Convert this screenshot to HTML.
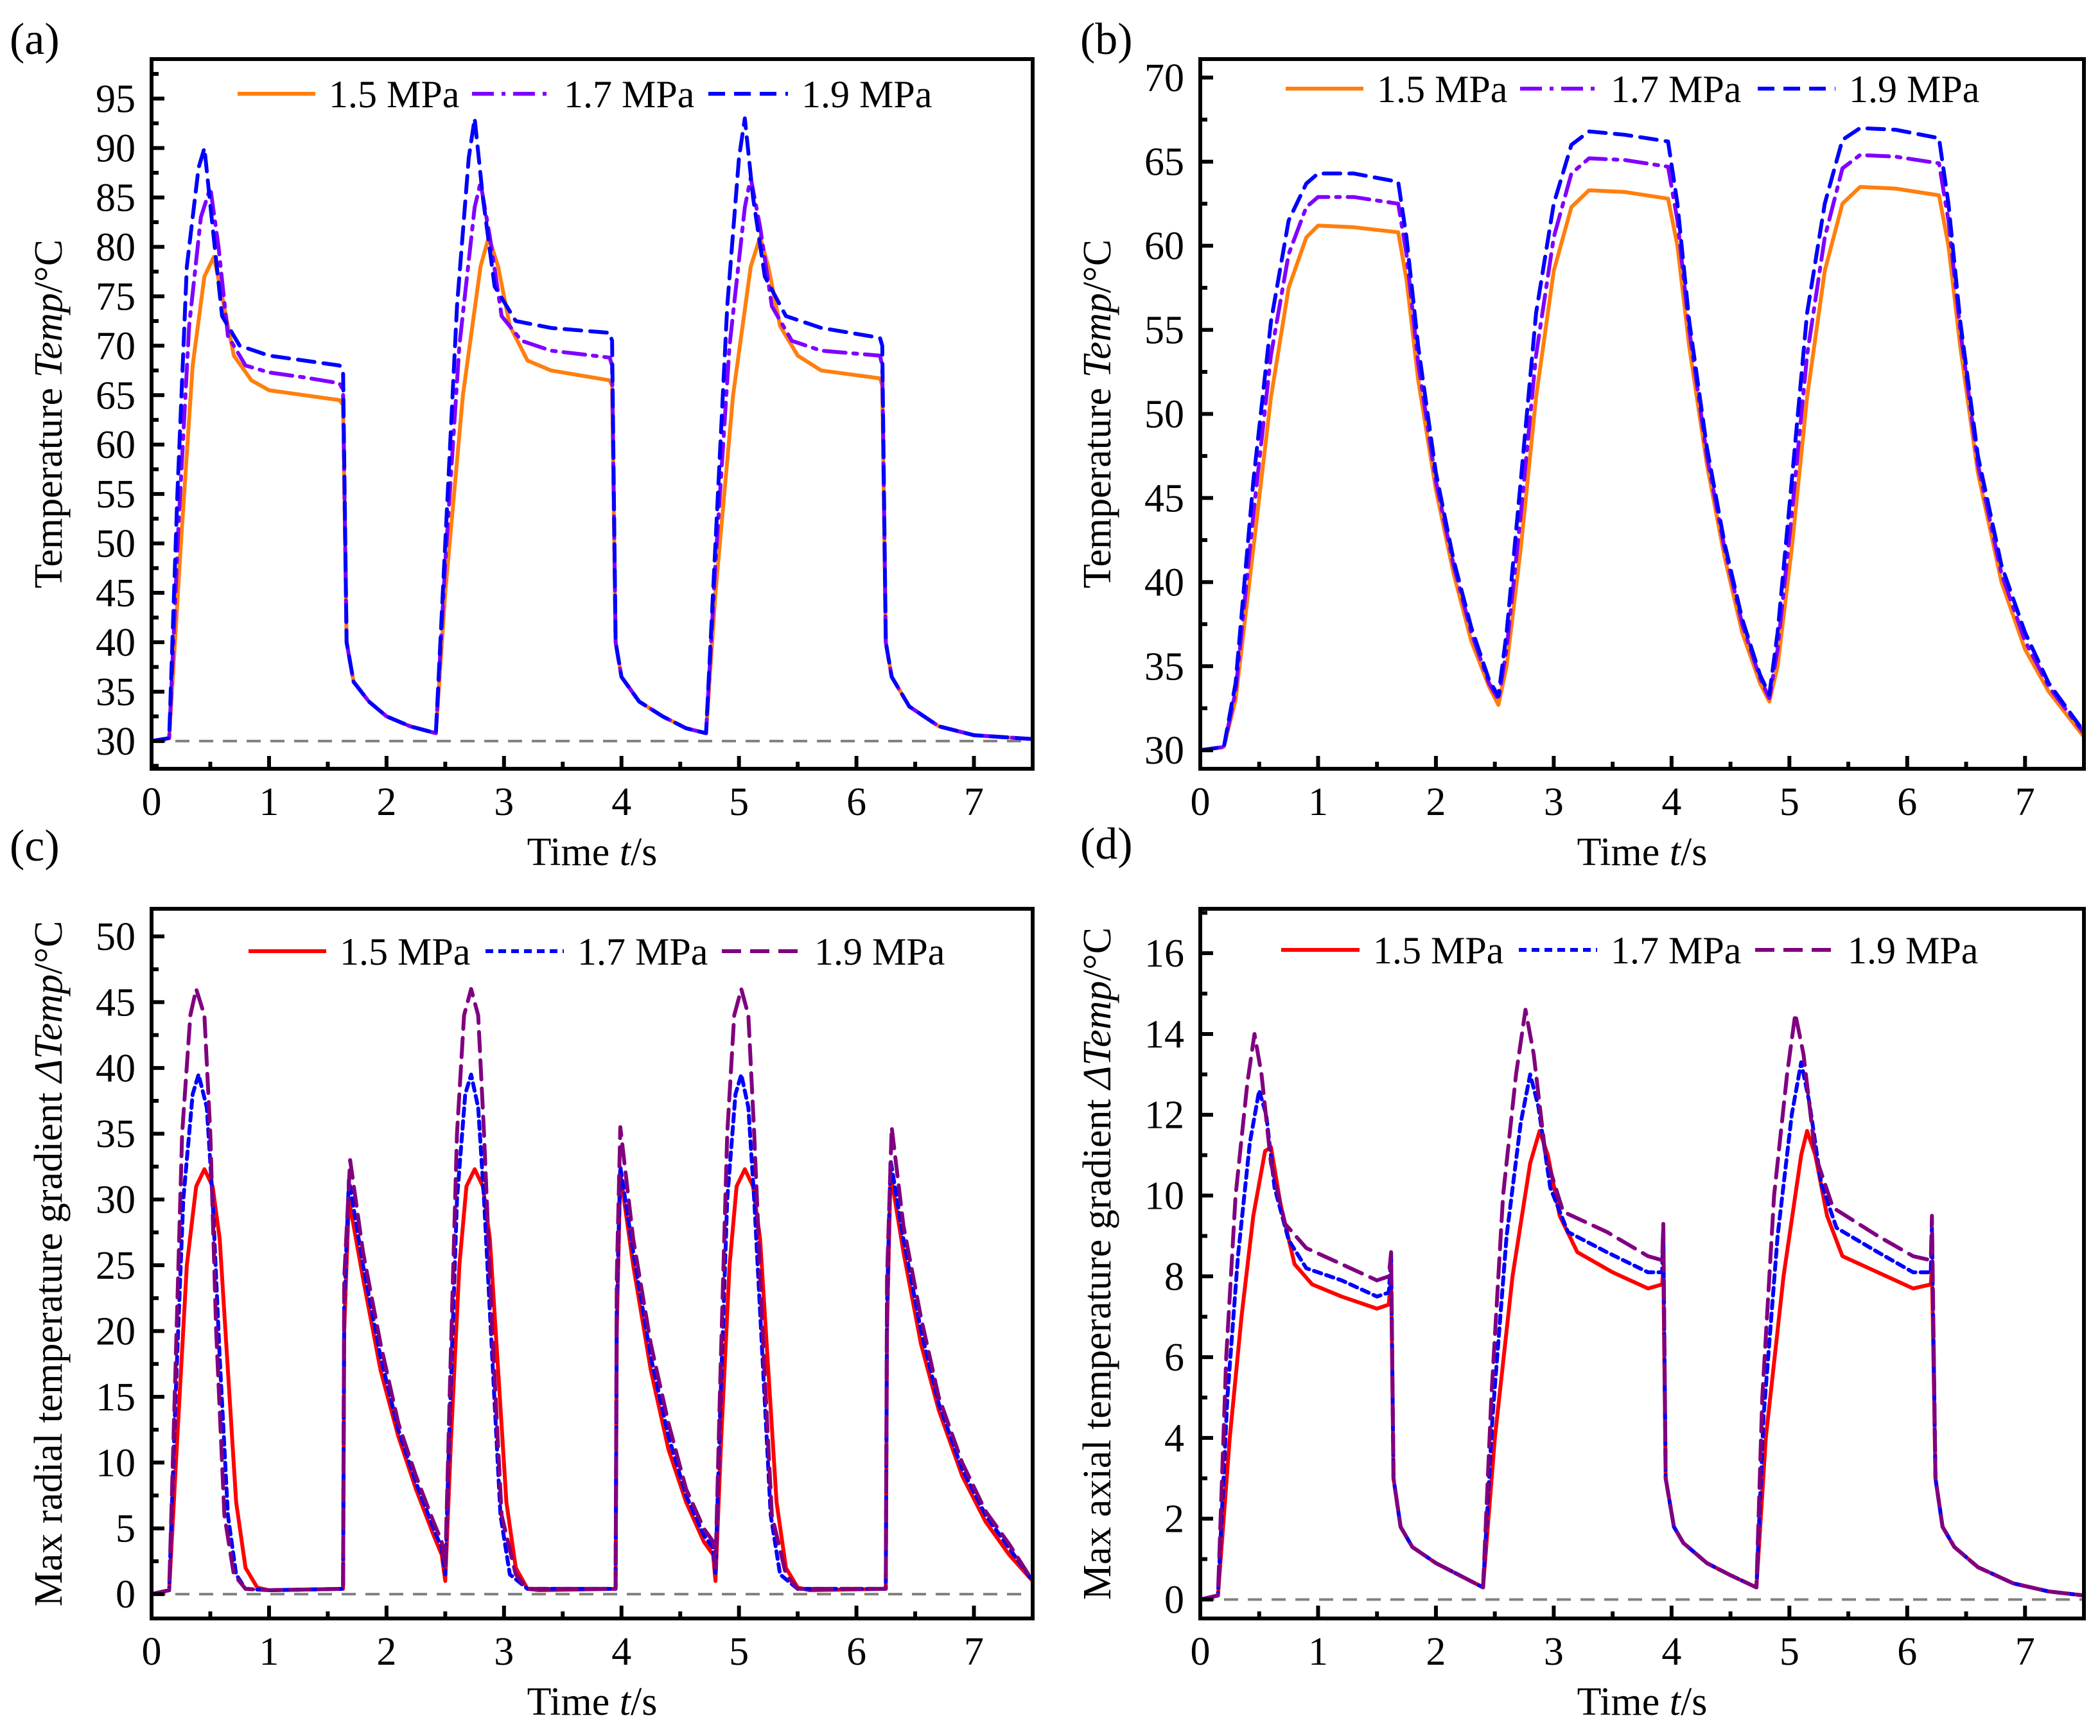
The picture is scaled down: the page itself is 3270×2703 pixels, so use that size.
<!DOCTYPE html>
<html><head><meta charset="utf-8"><style>
html,body{margin:0;padding:0;background:#fff}
svg{display:block}
text{font-family:"Liberation Serif",serif;fill:#000}
</style></head><body>
<svg id="fig" width="3270" height="2703" viewBox="0 0 3270 2703" xmlns="http://www.w3.org/2000/svg"></svg>
<script>
// ---------- data ----------
// Panel (a) surface temperature
const aT15=[0,0.15,0.25,0.35,0.45,0.53,0.6,0.7,0.85,1.0,1.3,1.6,1.63,1.66,1.72,1.85,2.0,2.2,2.42,2.5,2.65,2.8,2.87,2.95,3.05,3.2,3.4,3.9,3.92,3.95,4.0,4.15,4.35,4.55,4.72,4.8,4.95,5.1,5.18,5.25,5.35,5.5,5.7,6.2,6.22,6.25,6.3,6.45,6.7,7.0,7.5];
const aV15=[30,30.3,50,68,77,79,75,69,66.5,65.5,65,64.5,64,40,36,34,32.5,31.5,30.8,45,65,78,81,78,72,68.5,67.5,66.5,66,40,36.5,34,32.5,31.3,30.8,45,65,78,81,78,72,69,67.5,66.7,66,40,36.5,33.5,31.5,30.6,30.2];
const aT17=[0,0.15,0.23,0.32,0.42,0.5,0.57,0.65,0.8,1.0,1.3,1.6,1.63,1.66,1.72,1.85,2.0,2.2,2.42,2.5,2.62,2.75,2.8,2.88,2.98,3.15,3.4,3.9,3.92,3.95,4.0,4.15,4.35,4.55,4.72,4.8,4.92,5.05,5.1,5.18,5.28,5.45,5.7,6.2,6.22,6.25,6.3,6.45,6.7,7.0,7.5];
const aV17=[30,30.3,52,72,83,86,80,71,68,67.3,66.8,66.2,65.5,40,36,34,32.5,31.5,30.8,48,70,84,86.5,81,73,70.5,69.5,68.8,68,40,36.5,34,32.5,31.3,30.8,48,70,84,87,82,74,70.5,69.5,69,68,40,36.5,33.5,31.5,30.6,30.2];
const aT19=[0,0.15,0.22,0.3,0.4,0.45,0.52,0.6,0.75,1.0,1.3,1.6,1.63,1.66,1.72,1.85,2.0,2.2,2.42,2.5,2.6,2.7,2.75,2.82,2.92,3.1,3.4,3.9,3.92,3.95,4.0,4.15,4.35,4.55,4.72,4.8,4.9,5.0,5.05,5.12,5.22,5.4,5.7,6.2,6.22,6.25,6.3,6.45,6.7,7.0,7.5];
const aV19=[30,30.3,55,78,88,90,82,73,70,69,68.5,68,67.5,40,36,34,32.5,31.5,30.8,50,74,89,93,85,76,72.5,71.8,71.3,70.5,40,36.5,34,32.5,31.3,30.8,50,74,89,93,85,77,73,71.8,70.8,70,40,36.5,33.5,31.5,30.6,30.2];

// Panel (b) average temperature
const bT=[0,0.2,0.3,0.45,0.6,0.75,0.9,1.0,1.3,1.68,1.75,1.85,2.0,2.15,2.3,2.45,2.53,2.6,2.72,2.85,3.0,3.15,3.3,3.6,3.97,4.05,4.15,4.3,4.45,4.6,4.75,4.83,4.9,5.02,5.15,5.3,5.45,5.6,5.9,6.27,6.35,6.45,6.6,6.8,7.0,7.2,7.5];
const bV15=[30,30.2,33,42,51,57.5,60.5,61.2,61.1,60.8,58,52,45.5,40.5,36.5,33.8,32.7,35,42,51,58.5,62.3,63.3,63.2,62.8,60,54,47,41.5,37,34,32.9,35,42,51,58.5,62.5,63.5,63.4,63,60,54,46.5,40,36,33.5,30.8];
const bV17=[30,30.2,33.5,44,53.5,59.5,62.3,62.9,62.9,62.5,59.5,53,46,41,37,34,33,36,44,53.5,60.5,64.3,65.2,65.1,64.7,61.5,55,47.5,42,37.5,34.3,33.1,36,44,53.5,60.5,64.6,65.4,65.3,64.9,61.5,55,47,40.5,36.5,33.8,31];
const bV19=[30,30.2,34,46,55.5,61.5,63.7,64.3,64.3,63.8,60.5,54,46.5,41.3,37.3,34.2,33.2,37,46,56,62.5,66,66.8,66.6,66.2,62.5,55.5,48,42.3,37.8,34.5,33.3,37,46,56,62.5,66.3,67,66.9,66.4,62.5,55.5,47.5,41,37,34,31.1];

// Panel (c) max radial gradient
const cT15=[0,0.15,0.22,0.3,0.38,0.45,0.52,0.58,0.65,0.72,0.8,0.9,1.0,1.63,1.64,1.68,1.8,1.95,2.1,2.25,2.4,2.47,2.5,2.55,2.62,2.68,2.75,2.82,2.88,2.95,3.02,3.1,3.2,3.3,3.95,3.96,3.99,4.1,4.25,4.4,4.55,4.7,4.78,4.8,4.85,4.92,4.98,5.05,5.12,5.18,5.25,5.32,5.4,5.5,5.6,6.25,6.26,6.29,6.4,6.55,6.7,6.9,7.1,7.3,7.5];
const cV15=[0,0.3,12,25,31,32.3,31,27,17,7,2,0.5,0.3,0.4,20,30,24,17,12,8,4.5,3,1,12,25,31,32.3,31,27,17,7,2,0.4,0.3,0.4,20,32,25,17,11,7,4,3,1,12,25,31,32.3,31,27,17,7,2,0.5,0.3,0.4,20,32,26,19,14,9,5.5,3,1];
const cT17=[0,0.15,0.2,0.27,0.35,0.4,0.47,0.52,0.58,0.65,0.72,0.8,1.0,1.63,1.64,1.68,1.8,1.95,2.1,2.25,2.4,2.47,2.5,2.54,2.6,2.67,2.72,2.78,2.83,2.9,2.97,3.05,3.2,3.95,3.96,3.99,4.1,4.25,4.4,4.55,4.7,4.78,4.8,4.84,4.9,4.97,5.02,5.08,5.13,5.2,5.27,5.35,5.5,6.25,6.26,6.29,6.4,6.55,6.7,6.9,7.1,7.3,7.5];
const cV17=[0,0.3,14,30,38,39.5,37,30,18,6,1.5,0.4,0.3,0.4,22,31.5,25,18,12.5,8.5,5,3.5,1.5,14,30,38,39.5,37,30,18,6,1.5,0.4,0.4,22,32.5,26,18,12,7.5,4.5,3.5,1.5,14,30,38,39.5,37,30,18,6,1.5,0.4,0.4,22,33,27,20,14.5,9.5,6,3.5,1];
const cT19=[0,0.15,0.2,0.26,0.33,0.38,0.45,0.5,0.55,0.62,0.7,0.8,1.0,1.63,1.64,1.69,1.8,1.95,2.1,2.25,2.4,2.47,2.5,2.54,2.6,2.66,2.72,2.78,2.83,2.9,2.98,3.1,3.2,3.95,3.96,3.99,4.1,4.25,4.4,4.55,4.7,4.78,4.8,4.84,4.9,4.96,5.02,5.08,5.13,5.2,5.28,5.4,5.5,6.25,6.26,6.3,6.4,6.55,6.7,6.9,7.1,7.3,7.5];
const cV19=[0,0.3,16,35,44,46,44,35,20,6,1.5,0.4,0.3,0.4,24,33,26,19,13,9,5.5,4,2,16,35,44,46,44,35,20,6,1.5,0.4,0.4,24,35.5,27,19,13,8,5,4,2,16,35,44,46,44,35,20,6,1.5,0.4,0.4,24,35.5,28,21,15,10,6.3,3.8,1];

// Panel (d) max axial gradient
const dT15=[0,0.15,0.25,0.35,0.45,0.55,0.6,0.68,0.8,0.95,1.2,1.5,1.6,1.62,1.64,1.7,1.8,2.0,2.2,2.4,2.5,2.65,2.8,2.88,2.95,3.05,3.2,3.5,3.8,3.92,3.93,3.95,4.02,4.1,4.3,4.5,4.72,4.8,4.95,5.1,5.15,5.22,5.32,5.45,5.75,6.05,6.2,6.21,6.24,6.3,6.4,6.6,6.9,7.2,7.5];
const dV15=[0,0.1,4,7,9.5,11.1,11.2,9.8,8.3,7.8,7.5,7.2,7.3,8,3,1.8,1.3,0.9,0.6,0.3,4,8,10.8,11.6,11,9.5,8.6,8.1,7.7,7.8,8.2,3,1.8,1.4,0.9,0.6,0.3,4,8,11,11.6,11,9.5,8.5,8.1,7.7,7.8,8.2,3,1.8,1.3,0.8,0.4,0.2,0.1];
const dT17=[0,0.15,0.23,0.32,0.42,0.5,0.56,0.63,0.75,0.9,1.2,1.5,1.6,1.62,1.64,1.7,1.8,2.0,2.2,2.4,2.48,2.6,2.72,2.8,2.87,2.97,3.12,3.45,3.8,3.92,3.93,3.95,4.02,4.1,4.3,4.5,4.72,4.78,4.9,5.02,5.1,5.17,5.27,5.4,5.75,6.05,6.2,6.21,6.24,6.3,6.4,6.6,6.9,7.2,7.5];
const dV17=[0,0.1,5,8.5,11.3,12.6,12,10.2,8.9,8.2,7.9,7.5,7.6,8.5,3,1.8,1.3,0.9,0.6,0.3,4.5,9,11.8,13,12.2,10.2,9.1,8.6,8.1,8.1,9.2,3,1.8,1.4,0.9,0.6,0.3,4.5,9,12,13.3,12.3,10.3,9.2,8.6,8.1,8.1,9.2,3,1.8,1.3,0.8,0.4,0.2,0.1];
const dT19=[0,0.15,0.22,0.3,0.4,0.46,0.52,0.6,0.72,0.9,1.2,1.5,1.6,1.62,1.64,1.7,1.8,2.0,2.2,2.4,2.47,2.57,2.68,2.76,2.83,2.93,3.08,3.45,3.8,3.92,3.93,3.95,4.02,4.1,4.3,4.5,4.72,4.77,4.87,4.98,5.05,5.12,5.22,5.37,5.75,6.05,6.2,6.21,6.24,6.3,6.4,6.6,6.9,7.2,7.5];
const dV19=[0,0.1,6,10,12.8,14,13,10.8,9.3,8.7,8.3,7.9,8,8.6,3,1.8,1.3,0.9,0.6,0.3,5,10,13,14.6,13.5,11,9.6,9.1,8.5,8.4,9.3,3,1.8,1.4,0.9,0.6,0.3,5,10,13,14.5,13.5,11,9.7,9.0,8.5,8.4,9.5,3,1.8,1.3,0.8,0.4,0.2,0.1];

const xTicks=[0,1,2,3,4,5,6,7];
const aYTicks=[30,35,40,45,50,55,60,65,70,75,80,85,90,95];
const bYTicks=[30,35,40,45,50,55,60,65,70];
const cYTicks=[0,5,10,15,20,25,30,35,40,45,50];
const dYTicks=[0,2,4,6,8,10,12,14,16];
const legendLabels=["1.5 MPa","1.7 MPa","1.9 MPa"];

// ---------- drawing ----------
const NS="http://www.w3.org/2000/svg";
const svg=document.getElementById('fig');
function el(tag,attrs,parent){const e=document.createElementNS(NS,tag);for(const k in attrs)e.setAttribute(k,attrs[k]);(parent||svg).appendChild(e);return e;}

const panels=[
 {id:'a',x0:236,x1:1608,y0:92,y1:1197,ymin:27.2,ymax:99,ticks:aYTicks,minorStep:2.5,ref:30,
  title:'Temperature ',italic:'Temp',unit:'/°C',label:'(a)',lx:15,ly:84,
  series:[[aT15,aV15,'#ff7f0e','none'],[aT17,aV17,'#8000ff','34 12 6 12'],[aT19,aV19,'#0000ff','26 14']],
  leg:{y:146,lines:[[370,491],[735,857],[1103,1227]],cols:['#ff7f0e','#8000ff','#0000ff'],dash:['none','34 12 6 12','26 14']}},
 {id:'b',x0:1869,x1:3245,y0:92,y1:1197,ymin:28.9,ymax:71.1,ticks:bYTicks,minorStep:2.5,ref:null,
  title:'Temperature ',italic:'Temp',unit:'/°C',label:'(b)',lx:1682,ly:84,
  series:[[bT,bV15,'#ff7f0e','none'],[bT,bV17,'#8000ff','34 12 6 12'],[bT,bV19,'#0000ff','26 14']],
  leg:{y:138,lines:[[2002,2123],[2367,2487],[2737,2858]],cols:['#ff7f0e','#8000ff','#0000ff'],dash:['none','34 12 6 12','26 14']}},
 {id:'c',x0:236,x1:1608,y0:1415,y1:2520,ymin:-1.85,ymax:52.1,ticks:cYTicks,minorStep:2.5,ref:0,
  title:'Max radial temperature gradient ',italic:'ΔTemp',unit:'/°C',label:'(c)',lx:15,ly:1340,
  series:[[cT15,cV15,'#ff0000','none'],[cT17,cV17,'#0000ff','12 8'],[cT19,cV19,'#800080','30 14']],
  leg:{y:1481,lines:[[387,508],[756,878],[1124,1247]],cols:['#ff0000','#0000ff','#800080'],dash:['none','12 8','30 14']}},
 {id:'d',x0:1869,x1:3245,y0:1415,y1:2520,ymin:-0.47,ymax:17.1,ticks:dYTicks,minorStep:1,ref:0,
  title:'Max axial temperature gradient ',italic:'ΔTemp',unit:'/°C',label:'(d)',lx:1682,ly:1337,
  series:[[dT15,dV15,'#ff0000','none'],[dT17,dV17,'#0000ff','12 8'],[dT19,dV19,'#800080','30 14']],
  leg:{y:1479,lines:[[1995,2117],[2365,2487],[2733,2856]],cols:['#ff0000','#0000ff','#800080'],dash:['none','12 8','30 14']}}
];

panels.forEach(p=>{
  const g=el('g',{});
  
  
  const sx=t=>p.x0+(t/7.5)*(p.x1-p.x0);
  const sy=v=>p.y1-(v-p.ymin)/(p.ymax-p.ymin)*(p.y1-p.y0);
  const cp=el('clipPath',{id:'clip'+p.id},g);
  el('rect',{x:p.x0,y:p.y0,width:p.x1-p.x0,height:p.y1-p.y0},cp);
  if(p.ref!==null){
    const r=el('line',{x1:p.x0,x2:p.x1,y1:sy(p.ref),y2:sy(p.ref),stroke:'#808080','stroke-width':4,'stroke-dasharray':'22 15'},g);
    
    
  }
  const sg=el('g',{'clip-path':'url(#clip'+p.id+')'},g);
  p.series.forEach((s,i)=>{
    const [T,V,col,dash]=s;
    let d='';
    T.forEach((t,k)=>{d+=(k?'L':'M')+sx(t).toFixed(1)+','+sy(V[k]).toFixed(1);});
    const path=el('path',{d:d,fill:'none',stroke:col,'stroke-width':6,'stroke-linejoin':'round','stroke-linecap':'round','stroke-dasharray':dash},sg);
    
    
  });
  const fr=el('rect',{x:p.x0,y:p.y0,width:p.x1-p.x0,height:p.y1-p.y0,fill:'none',stroke:'#000','stroke-width':6},g);
  
  
  for(let t=0;t<=7.5;t+=0.5){
    const major=Number.isInteger(t);
    el('line',{x1:sx(t),x2:sx(t),y1:p.y1,y2:p.y1-(major?20:11),stroke:'#000','stroke-width':6},g);
  }
  xTicks.forEach(t=>{
    const tx=el('text',{x:sx(t),y:p.y1+72,'font-size':62,'text-anchor':'middle'},g);
    tx.textContent=t;
    
    
  });
  for(let v=p.ticks[0]-p.minorStep*2;v<=p.ymax;v+=p.minorStep){
    if(v<p.ymin)continue;
    const major=p.ticks.some(tk=>Math.abs(tk-v)<1e-6);
    el('line',{x1:p.x0,x2:p.x0+(major?20:11),y1:sy(v),y2:sy(v),stroke:'#000','stroke-width':6},g);
  }
  p.ticks.forEach(v=>{
    const tx=el('text',{x:p.x0-25,y:sy(v)+21,'font-size':62,'text-anchor':'end'},g);
    tx.textContent=v;
    
    
  });
  const xt=el('text',{x:(p.x0+p.x1)/2,y:p.y1+150,'font-size':62,'text-anchor':'middle'},g);
  xt.innerHTML='Time <tspan font-style="italic">t</tspan>/s';
  
  
  const cy=(p.y0+p.y1)/2, cx=p.x0-140;
  const yt=el('text',{x:cx,y:cy,'font-size':62,'text-anchor':'middle',transform:'rotate(-90 '+cx+' '+cy+')'},g);
  yt.innerHTML=p.title+'<tspan font-style="italic">'+p.italic+'</tspan>'+p.unit;
  
  
  const pl=el('text',{x:p.lx,y:p.ly,'font-size':70},g);
  pl.textContent=p.label;
  
  
  p.leg.lines.forEach((ln,i)=>{
    const lg=el('g',{},g);
    
    
    el('line',{x1:ln[0],x2:ln[1],y1:p.leg.y,y2:p.leg.y,stroke:p.leg.cols[i],'stroke-width':6,'stroke-dasharray':p.leg.dash[i]},lg);
    const lt=el('text',{x:ln[1]+21,y:p.leg.y+21,'font-size':60},lg);
    lt.textContent=legendLabels[i];
  });
});
</script>
</body></html>
